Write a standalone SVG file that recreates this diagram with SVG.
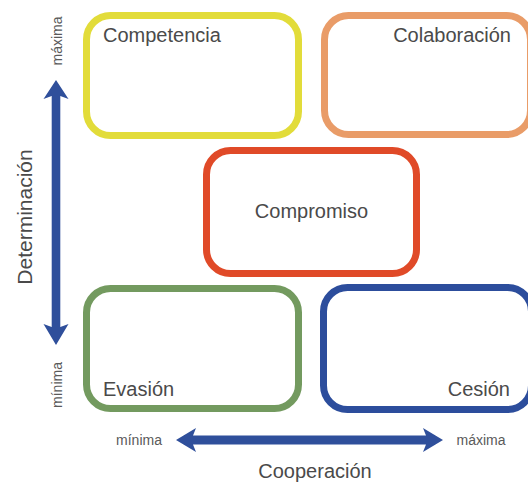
<svg xmlns="http://www.w3.org/2000/svg" width="528" height="484" viewBox="0 0 528 484">
<style>
.box{fill:#fff;stroke-width:7}
.lbl{font-family:"Liberation Sans",Arial,sans-serif;font-size:20px;fill:#4a4a4a}
.sm{font-family:"Liberation Sans",Arial,sans-serif;font-size:14px;fill:#5a5a5a}
.arr{fill:#2f4f9b}
</style>
<rect width="528" height="484" fill="#fff"/>
<g id="competencia">
<rect class="box" x="86.5" y="15.5" width="212" height="120" rx="24" stroke="#e2dc3a"/>
<text class="lbl" x="103" y="42">Competencia</text>
</g>
<g id="colaboracion">
<rect class="box" x="324.5" y="15.5" width="206" height="119" rx="24" stroke="#e99c68"/>
<text class="lbl" x="511" y="42" text-anchor="end">Colaboración</text>
</g>
<g id="compromiso">
<rect class="box" x="206.5" y="150.5" width="210" height="123" rx="24" stroke="#e04a28"/>
<text class="lbl" x="311.5" y="218" text-anchor="middle">Compromiso</text>
</g>
<g id="evasion">
<rect class="box" x="86.5" y="288.5" width="212" height="120" rx="24" stroke="#739a5f"/>
<text class="lbl" x="103" y="396">Evasión</text>
</g>
<g id="cesion">
<rect class="box" x="323.5" y="287.5" width="208" height="122" rx="24" stroke="#2c4d9c"/>
<text class="lbl" x="510" y="396" text-anchor="end">Cesión</text>
</g>
<g id="connectors">
<path class="arr" d="M56,80 L68.5,99 L60.3,96 L60.3,327 L68.5,324 L56,345 L43.5,324 L51.7,327 L51.7,96 L43.5,99 Z"/>
<path class="arr" d="M176,440 L196,428 L193,435.5 L426,435.5 L423,428 L443,440 L423,452 L426,444.5 L193,444.5 L196,452 Z"/>
</g>
<g id="axis-labels">
<text class="sm" transform="translate(62,41) rotate(-90)" text-anchor="middle">máxima</text>
<text class="sm" transform="translate(62,385) rotate(-90)" text-anchor="middle">mínima</text>
<text class="lbl" transform="translate(32,217) rotate(-90)" text-anchor="middle" style="font-size:21px">Determinación</text>
<text class="sm" x="139" y="445" text-anchor="middle">mínima</text>
<text class="sm" x="481" y="445" text-anchor="middle">máxima</text>
<text class="lbl" x="315" y="478" text-anchor="middle">Cooperación</text>
</g>
</svg>
